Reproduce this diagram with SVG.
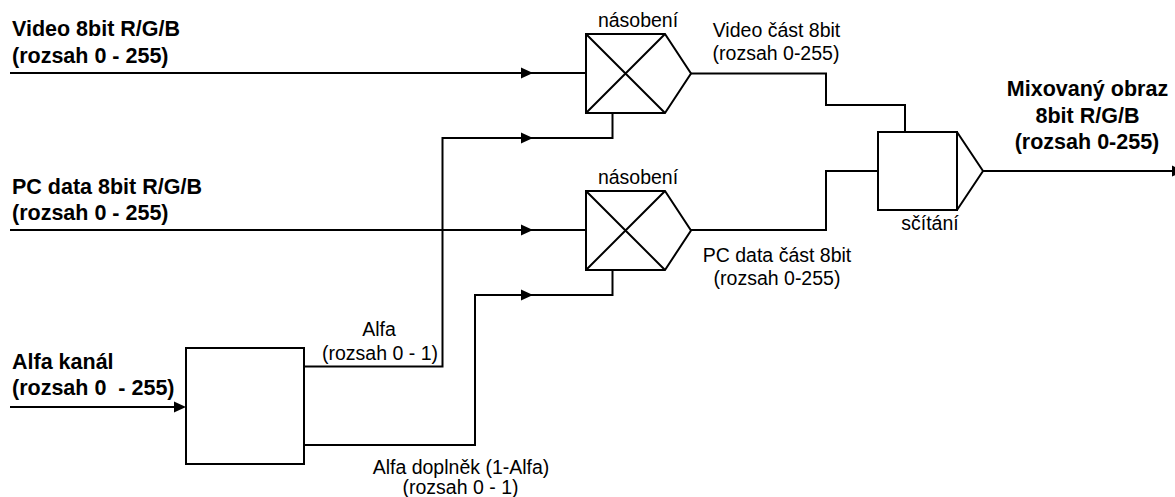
<svg xmlns="http://www.w3.org/2000/svg" width="1175" height="497" viewBox="0 0 1175 497">
<style>
.ln{fill:none;stroke:#000;stroke-width:2;stroke-linejoin:miter}
.sh{fill:#fff;stroke:#000;stroke-width:2}
.b{font-family:"Liberation Sans",Arial,sans-serif;font-weight:bold;font-size:21.5px;fill:#000}
.r{font-family:"Liberation Sans",Arial,sans-serif;font-size:19.5px;fill:#000}
.m{text-anchor:middle}
</style>
<defs>
<marker id="ar" viewBox="0 0 12 12" markerWidth="12" markerHeight="12" refX="0" refY="6" orient="auto" markerUnits="userSpaceOnUse">
<path d="M0,0.5 L12,6 L0,11.5 Z" fill="#000"/>
</marker>
</defs>
<rect width="1175" height="497" fill="#fff"/>
<g id="connectors">
<path class="ln" d="M10,73 H521" marker-end="url(#ar)"/>
<path class="ln" d="M521,73 H586"/>
<path class="ln" d="M10,230 H521" marker-end="url(#ar)"/>
<path class="ln" d="M521,230 H586"/>
<path class="ln" d="M10,407 H174" marker-end="url(#ar)"/>
<path class="ln" d="M304,366.5 H442.5 V138 H521" marker-end="url(#ar)"/>
<path class="ln" d="M521,138 H612.5 V113"/>
<path class="ln" d="M304,445 H475 V295 H521" marker-end="url(#ar)"/>
<path class="ln" d="M521,295 H612.5 V270"/>
<path class="ln" d="M691,73.5 H826 V105 H905 V132"/>
<path class="ln" d="M691,230 H826 V171 H878"/>
<path class="ln" d="M983,171 H1172" marker-end="url(#ar)"/>
</g>
<g id="mult-video">
<path class="sh" d="M586,34 H665 L691,73.5 L665,113 H586 Z"/>
<path class="ln" d="M586,34 L665,113 M586,113 L665,34"/>
<text class="r m" x="638" y="26.5">násobení</text>
</g>
<g id="mult-pc">
<path class="sh" d="M586,191 H665 L691,230.5 L665,270 H586 Z"/>
<path class="ln" d="M586,191 L665,270 M586,270 L665,191"/>
<text class="r m" x="638" y="183.5">násobení</text>
</g>
<g id="adder">
<rect class="sh" x="878" y="132" width="79" height="78"/>
<path class="ln" d="M957,132 L983,171 L957,210"/>
<text class="r m" x="930" y="230">sčítání</text>
</g>
<g id="alpha-block">
<rect class="sh" x="186" y="348" width="118" height="116"/>
</g>
<g id="labels">
<text class="b" x="12" y="36">Video 8bit R/G/B</text>
<text class="b" x="12" y="62.5">(rozsah 0 - 255)</text>
<text class="b" x="12" y="193.5">PC data 8bit R/G/B</text>
<text class="b" x="12" y="219.5">(rozsah 0 - 255)</text>
<text class="b" x="12" y="369">Alfa kanál</text>
<text class="b" x="12" y="395" xml:space="preserve">(rozsah 0  - 255)</text>
<text class="b m" x="1087.5" y="96">Mixovaný obraz</text>
<text class="b m" x="1087.5" y="122.5">8bit R/G/B</text>
<text class="b m" x="1087" y="148.5">(rozsah 0-255)</text>
<text class="r m" x="776.5" y="36.5">Video část 8bit</text>
<text class="r m" x="776" y="60">(rozsah 0-255)</text>
<text class="r m" x="777" y="261.5">PC data část 8bit</text>
<text class="r m" x="777" y="285">(rozsah 0-255)</text>
<text class="r m" x="379" y="335.5">Alfa</text>
<text class="r m" x="380" y="360">(rozsah 0 - 1)</text>
<text class="r m" x="461" y="473.5">Alfa doplněk (1-Alfa)</text>
<text class="r m" x="460.5" y="493.5">(rozsah 0 - 1)</text>
</g>
</svg>
